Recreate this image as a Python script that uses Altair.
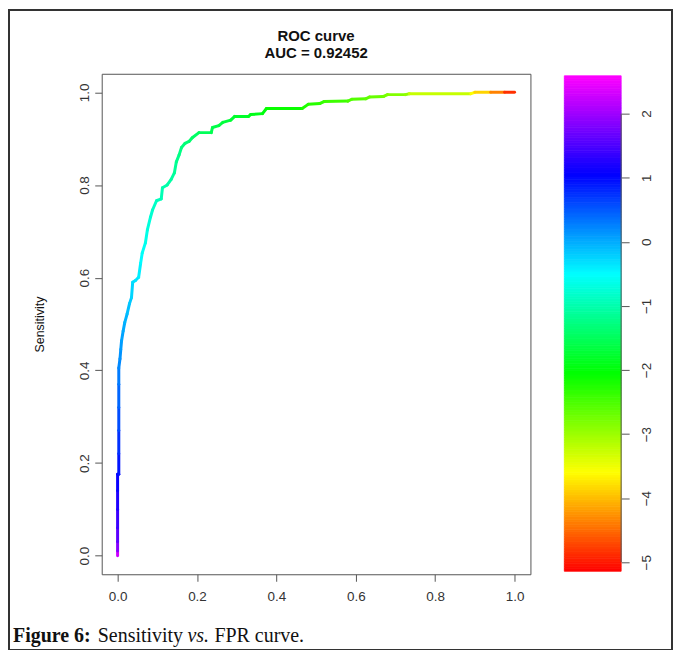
import altair as alt
import numpy as np
import pandas as pd

# ROC curve points (FPR, sensitivity, threshold used for colour)
fpr = [0.000, 0.000, 0.000, 0.000, 0.000, 0.000, 0.000, 0.003, 0.003, 0.003, 0.003, 0.003,
       0.003, 0.006, 0.008, 0.010, 0.014, 0.018, 0.024, 0.030, 0.035, 0.038, 0.045, 0.053,
       0.058, 0.062, 0.070, 0.075, 0.083, 0.088, 0.098, 0.110, 0.113, 0.125, 0.135, 0.143,
       0.148, 0.155, 0.161, 0.170, 0.180, 0.188, 0.205, 0.236, 0.239, 0.255, 0.265, 0.285,
       0.295, 0.330, 0.335, 0.365, 0.375, 0.465, 0.480, 0.510, 0.520, 0.580, 0.590, 0.625,
       0.635, 0.670, 0.680, 0.725, 0.735, 0.890, 0.900, 0.940, 0.975, 1.000]
tpr = [0.000, 0.010, 0.030, 0.060, 0.100, 0.140, 0.176, 0.176, 0.220, 0.270, 0.320, 0.370,
       0.405, 0.425, 0.445, 0.464, 0.485, 0.503, 0.522, 0.544, 0.557, 0.590, 0.594, 0.601,
       0.631, 0.653, 0.675, 0.703, 0.731, 0.746, 0.766, 0.770, 0.794, 0.800, 0.812, 0.826,
       0.850, 0.865, 0.881, 0.890, 0.894, 0.902, 0.913, 0.913, 0.924, 0.928, 0.935, 0.940,
       0.948, 0.948, 0.952, 0.954, 0.965, 0.965, 0.974, 0.976, 0.980, 0.981, 0.985, 0.986,
       0.990, 0.991, 0.995, 0.995, 0.997, 0.997, 1.000, 1.000, 1.000, 1.000]
thr = [2.59, 2.00, 1.70, 1.50, 1.30, 1.15, 1.05, 1.00, 0.85, 0.65, 0.50, 0.35,
       0.25, 0.18, 0.12, 0.08, 0.03, -0.02, -0.08, -0.15, -0.20, -0.30, -0.32, -0.36,
       -0.45, -0.52, -0.60, -0.68, -0.75, -0.80, -0.88, -0.92, -0.98, -1.02, -1.06, -1.10,
       -1.18, -1.22, -1.27, -1.32, -1.36, -1.40, -1.47, -1.55, -1.58, -1.63, -1.67, -1.72,
       -1.76, -1.83, -1.86, -1.94, -2.00, -2.20, -2.25, -2.32, -2.36, -2.48, -2.52, -2.60,
       -2.64, -2.72, -2.78, -2.90, -2.95, -3.55, -3.62, -4.10, -4.60, -5.10]

x_ticks = [0.0, 0.2, 0.4, 0.6, 0.8, 1.0]
y_ticks = [0.0, 0.2, 0.4, 0.6, 0.8, 1.0]
cbar_ticks = [-5, -4, -3, -2, -1, 0, 1, 2]
cbar_range = [-5.14, 2.59]
rainbow = ["#ff0000", "#ffff00", "#00ff00", "#00ffff", "#0000ff", "#ff00ff"]
title_lines = ["ROC curve", "AUC = 0.92452"]
y_title = "Sensitivity"
caption_parts = ["Figure 6:", "Sensitivity", "vs.", "FPR curve."]

# ---- tables -------------------------------------------------------------
seg = pd.DataFrame({
    "x": fpr[:-1], "y": tpr[:-1], "x2": fpr[1:], "y2": tpr[1:],
    "t": [(a + b) / 2 for a, b in zip(thr[:-1], thr[1:])],
})
edges = np.linspace(cbar_range[0], cbar_range[1], 201)
cb = pd.DataFrame({"lo": edges[:-1], "hi": edges[1:], "mid": (edges[:-1] + edges[1:]) / 2})
cb_edge = pd.DataFrame({"lo": [min(cbar_ticks)], "hi": [max(cbar_ticks)]})

W, H = 430, 502
SANS = "Liberation Sans"
SERIF = "Liberation Serif"

cscale = alt.Scale(domain=list(np.linspace(cbar_range[0], cbar_range[1], len(rainbow))),
                   range=rainbow, interpolate="rgb")
xs = alt.Scale(domain=[-0.04, 1.04], nice=False, zero=False)
ys = alt.Scale(domain=[-0.04, 1.04], nice=False, zero=False)

roc = alt.Chart(seg).mark_rule(strokeWidth=3, strokeCap="round").encode(
    x=alt.X("x:Q", scale=xs, axis=alt.Axis(
        values=x_ticks, format=".1f", title=None, grid=False, domain=False,
        tickSize=7, tickColor="#555555", labelColor="#333333", labelFont=SANS,
        labelFontSize=13.5, labelPadding=8, labelFlush=False)),
    x2="x2:Q",
    y=alt.Y("y:Q", scale=ys, axis=alt.Axis(
        values=y_ticks, format=".1f", title=y_title, grid=False, domain=False,
        tickSize=7, tickColor="#555555", labelColor="#333333", labelFont=SANS,
        labelFontSize=13.5, labelAngle=270, labelAlign="center", labelBaseline="bottom",
        labelPadding=3, labelFlush=False, titleFont=SANS, titleFontSize=12.5,
        titleFontWeight="normal", titleColor="#111111", titlePadding=31)),
    y2="y2:Q",
    color=alt.Color("t:Q", scale=cscale, legend=None),
)

cys = alt.Scale(domain=[-5.187, 2.622], nice=False, zero=False)
bar = alt.Chart(cb).mark_rect(strokeWidth=0.8).encode(
    x=alt.value(464), x2=alt.value(521),
    y=alt.Y("lo:Q", scale=cys, axis=alt.Axis(
        orient="right", offset=91, values=cbar_ticks, format="d", title=None,
        grid=False, domain=False, tickSize=8, tickColor="#555555",
        labelColor="#333333", labelFont=SANS, labelFontSize=13.5, labelAngle=270,
        labelAlign="center", labelBaseline="top", labelPadding=10)),
    y2="hi:Q",
    color=alt.Color("mid:Q", scale=cscale, legend=None),
    stroke=alt.Stroke("mid:Q", scale=cscale, legend=None),
)
bar_edge = alt.Chart(cb_edge).mark_rule(color="#555555", strokeWidth=1).encode(
    x=alt.value(521), y=alt.Y("lo:Q", scale=cys), y2="hi:Q")
colorbar = alt.layer(bar, bar_edge)

one = pd.DataFrame({"a": [0]})
title1 = alt.Chart(one).mark_text(font=SANS, fontWeight="bold", fontSize=15,
                                  align="center", baseline="middle", color="#111111").encode(
    text=alt.value(title_lines[0]), x=alt.value(W / 2), y=alt.value(-38))
title2 = alt.Chart(one).mark_text(font=SANS, fontWeight="bold", fontSize=15,
                                  align="center", baseline="middle", color="#111111").encode(
    text=alt.value(title_lines[1]), x=alt.value(W / 2), y=alt.value(-21))

cap_x = [-89, -4, 86, 113]
cap_style = [("bold", "normal"), ("normal", "normal"), ("normal", "italic"), ("normal", "normal")]
caps = []
for txt, cx, (fw, fs) in zip(caption_parts, cap_x, cap_style):
    caps.append(alt.Chart(one).mark_text(font=SERIF, fontSize=20, fontWeight=fw, fontStyle=fs,
                                         align="left", baseline="alphabetic", color="#111111").encode(
        text=alt.value(txt), x=alt.value(cx), y=alt.value(570)))

border = alt.Chart(one).mark_rect(fillOpacity=0, stroke="#333333", strokeWidth=2).encode(
    x=alt.value(-93), x2=alt.value(572), y=alt.value(-64), y2=alt.value(578))

chart = alt.layer(roc, colorbar, title1, title2, border, *caps).resolve_scale(
    y="independent", stroke="independent"
).properties(width=W, height=H, padding=0).configure_view(
    stroke="#555555", strokeWidth=1
)

chart.save("out.html", embed_options={"renderer": "svg", "actions": False})
